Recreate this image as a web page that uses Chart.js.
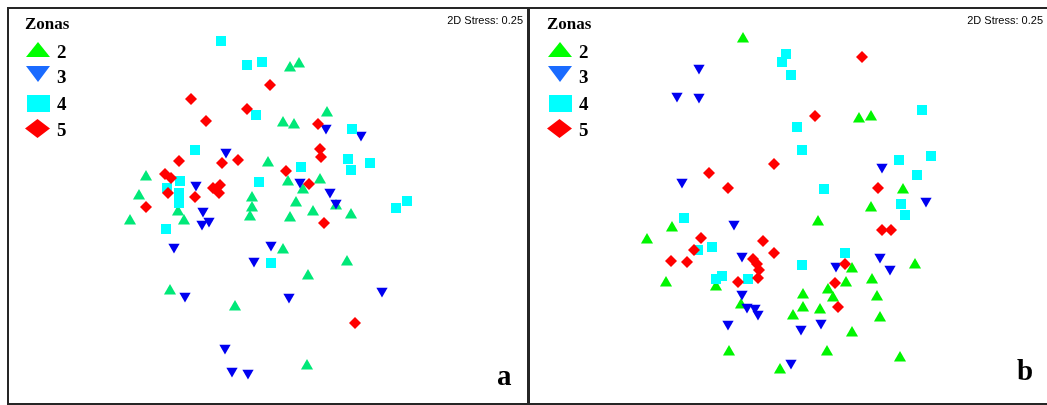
<!DOCTYPE html>
<html>
<head>
<meta charset="utf-8">
<script src="https://cdn.jsdelivr.net/npm/chart.js@4.4.1/dist/chart.umd.min.js"></script>
<style>
  html, body { margin: 0; padding: 0; background: #fff; overflow: hidden; }
  body { width: 1047px; height: 405px; position: relative; }
  .panel { position: absolute; top: 7px; width: 522px; height: 398px; box-sizing: border-box; border: 2px solid #262626; background: #fff; }
  #panelA { left: 7px; }
  #panelB { left: 529px; border-left-width: 1px; }
  canvas { display: block; }
</style>
</head>
<body>
<div class="panel" id="panelA"><canvas id="chartA" width="518" height="394"></canvas></div>
<div class="panel" id="panelB"><canvas id="chartB" width="519" height="394"></canvas></div>
<script>
const zoneLabels = ['2', '3', '4', '5'];
const stressText = '2D Stress: 0.25';

// panel a
const zone2A = [[290,68],[299,64],[327,113],[283,123],[294,125],[268,163],[288,182],[320,180],[303,190],[296,203],[336,206],[313,212],[290,218],[351,215],[252,198],[252,208],[250,217],[146,177],[139,196],[130,221],[178,212],[184,221],[283,250],[347,262],[308,276],[170,291],[235,307],[307,366]];
const zone3A = [[226,152],[196,185],[203,211],[202,224],[209,221],[174,247],[185,296],[225,348],[232,371],[248,373],[254,261],[271,245],[289,297],[382,291],[326,128],[361,135],[300,182],[330,192],[336,203]];
const zone4A = [[221,41],[247,65],[262,62],[256,115],[195,150],[180,181],[167,188],[179,193],[179,203],[166,229],[259,182],[271,263],[301,167],[352,129],[348,159],[351,170],[370,163],[396,208],[407,201]];
const zone5A = [[270,85],[191,99],[247,109],[206,121],[179,161],[222,163],[238,160],[165,174],[171,178],[168,193],[195,197],[213,188],[220,185],[219,193],[146,207],[318,124],[320,149],[321,157],[286,171],[309,184],[324,223],[355,323]];

// panel b
const zone2B = [[743,39],[859,119],[871,117],[903,190],[871,208],[818,222],[852,269],[915,265],[846,283],[872,280],[828,290],[803,295],[833,298],[877,297],[803,308],[820,310],[793,316],[880,318],[852,333],[827,352],[900,358],[780,370],[672,228],[647,240],[666,283],[716,287],[741,305],[729,352]];
const zone3B = [[699,68],[677,96],[699,97],[682,182],[882,167],[926,201],[880,257],[836,266],[890,269],[801,329],[821,323],[791,363],[734,224],[742,256],[742,294],[747,307],[755,308],[758,314],[728,324]];
const zone4B = [[786,54],[782,62],[791,75],[797,127],[802,150],[922,110],[899,160],[931,156],[917,175],[824,189],[901,204],[905,215],[845,253],[802,265],[684,218],[712,247],[698,250],[722,276],[716,279],[748,279]];
const zone5B = [[862,57],[815,116],[774,164],[709,173],[728,188],[878,188],[882,230],[891,230],[845,264],[835,283],[838,307],[701,238],[763,241],[694,250],[774,253],[671,261],[687,262],[753,259],[757,264],[759,270],[758,278],[738,282]];

const toPoints = arr => arr.map(p => ({ x: p[0], y: p[1] }));

// legend, stress note and panel letter drawn on top of the points
const panelText = {
    id: 'panelText',
    afterDatasetsDraw(chart, args, opts) {
        const ctx = chart.ctx;
        const dx = opts.dx || 0;
        ctx.save();
        ctx.textBaseline = 'alphabetic';
        ctx.textAlign = 'left';
        ctx.fillStyle = '#000';
        ctx.font = 'bold 17px "Liberation Serif", serif';
        ctx.fillText('Zonas', 16 + dx, 20);

        // up triangle
        ctx.fillStyle = '#00ff00';
        ctx.beginPath();
        ctx.moveTo(29 + dx, 33); ctx.lineTo(41 + dx, 48); ctx.lineTo(17 + dx, 48);
        ctx.closePath(); ctx.fill();
        // down triangle
        ctx.fillStyle = '#1a6bff';
        ctx.beginPath();
        ctx.moveTo(17 + dx, 57); ctx.lineTo(41 + dx, 57); ctx.lineTo(29 + dx, 73);
        ctx.closePath(); ctx.fill();
        // square
        ctx.fillStyle = '#00ffff';
        ctx.fillRect(18 + dx, 86, 23, 17);
        // diamond
        ctx.fillStyle = '#ff0000';
        ctx.beginPath();
        ctx.moveTo(16 + dx, 119.5); ctx.lineTo(28.5 + dx, 110); ctx.lineTo(41 + dx, 119.5); ctx.lineTo(28.5 + dx, 129);
        ctx.closePath(); ctx.fill();

        ctx.fillStyle = '#000';
        ctx.font = 'bold 19px "Liberation Serif", serif';
        const labelY = [49, 74, 101, 127];
        zoneLabels.forEach((t, i) => ctx.fillText(t, 48 + dx, labelY[i]));

        ctx.font = '11px "Liberation Sans", Arial, sans-serif';
        ctx.textAlign = 'right';
        ctx.fillText(stressText, opts.stressRight, 15);

        ctx.textAlign = 'left';
        ctx.font = 'bold 29px "Liberation Serif", serif';
        ctx.fillText(opts.letter, opts.letterX, opts.letterY);
        ctx.restore();
    }
};

function makeChart(id, zones, green, xMin, xMax, textOpts) {
    const styles = [
        { label: '2', style: 'triangle', rotation: 0, color: green, radius: 7, order: 4 },
        { label: '3', style: 'triangle', rotation: 180, color: '#0000f0', radius: 6.5, order: 3 },
        { label: '4', style: 'rect', rotation: 0, color: '#00ffff', radius: 7.1, order: 2 },
        { label: '5', style: 'rectRot', rotation: 0, color: '#ff0000', radius: 6, order: 1 }
    ];
    const datasets = zones.map((z, i) => ({
        label: styles[i].label,
        data: toPoints(z),
        pointStyle: styles[i].style,
        rotation: styles[i].rotation,
        pointRadius: styles[i].radius,
        backgroundColor: styles[i].color,
        borderColor: styles[i].color,
        borderWidth: 0,
        order: styles[i].order
    }));

    return new Chart(document.getElementById(id), {
        type: 'scatter',
        data: { datasets: datasets },
        options: {
            responsive: false,
            animation: false,
            devicePixelRatio: 1,
            layout: { autoPadding: false, padding: 0 },
            scales: {
                x: { type: 'linear', display: false, min: xMin, max: xMax },
                y: { type: 'linear', display: false, min: 9, max: 403, reverse: true }
            },
            plugins: {
                legend: { display: false },
                tooltip: { enabled: false },
                panelText: textOpts
            }
        },
        plugins: [panelText]
    });
}

makeChart('chartA', [zone2A, zone3A, zone4A, zone5A], '#00e878', 9, 527,
    { dx: 0, stressRight: 514, letter: 'a', letterX: 488, letterY: 376 });
makeChart('chartB', [zone2B, zone3B, zone4B, zone5B], '#00f500', 530, 1049,
    { dx: 1, stressRight: 513, letter: 'b', letterX: 487, letterY: 371 });
</script>
</body>
</html>
